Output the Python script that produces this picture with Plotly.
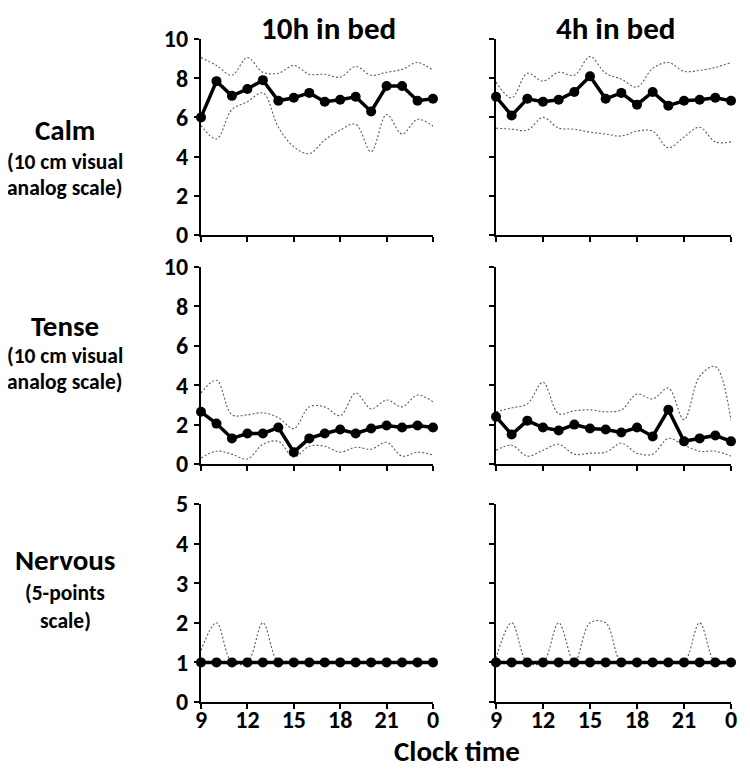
import plotly.graph_objects as go

# ---------------- data ----------------
hours = [9, 10, 11, 12, 13, 14, 15, 16, 17, 18, 19, 20, 21, 22, 23, 24]
x_tickvals = [9, 12, 15, 18, 21, 24]
x_ticktext = ["9", "12", "15", "18", "21", "0"]

calm_10_mean = [6.0, 7.85, 7.1, 7.45, 7.9, 6.85, 7.0, 7.25, 6.8, 6.9, 7.05, 6.3, 7.6, 7.6, 6.85, 6.95]
calm_10_upper = [9.05, 8.65, 8.15, 9.05, 8.3, 8.25, 8.65, 8.2, 8.2, 8.05, 8.6, 8.15, 8.3, 8.45, 8.8, 8.4]
calm_10_lower = [5.6, 4.9, 6.4, 6.8, 7.25, 5.5, 4.5, 4.15, 4.85, 5.35, 5.65, 4.25, 6.15, 5.15, 5.9, 5.55]

calm_4_mean = [7.05, 6.1, 6.95, 6.8, 6.9, 7.3, 8.1, 6.95, 7.25, 6.65, 7.3, 6.6, 6.85, 6.9, 7.0, 6.85]
calm_4_upper = [7.8, 7.0, 8.25, 7.85, 8.3, 8.15, 9.1, 8.25, 7.95, 7.55, 8.5, 8.8, 8.35, 8.4, 8.55, 8.8]
calm_4_lower = [5.45, 5.4, 5.35, 6.0, 5.45, 5.4, 5.25, 5.15, 5.05, 5.3, 5.3, 4.45, 5.0, 5.5, 4.75, 4.75]

tense_10_mean = [2.65, 2.05, 1.3, 1.55, 1.55, 1.85, 0.6, 1.3, 1.55, 1.75, 1.55, 1.8, 1.95, 1.85, 1.95, 1.85]
tense_10_upper = [3.6, 4.25, 2.5, 2.5, 2.6, 2.35, 1.8, 2.9, 2.9, 2.45, 3.6, 2.8, 3.25, 2.9, 3.5, 3.15]
tense_10_lower = [0.3, 0.65, 0.5, 0.25, 1.0, 1.15, 0.35, 0.9, 0.9, 0.6, 0.85, 0.75, 1.1, 0.4, 0.6, 0.45]

tense_4_mean = [2.4, 1.5, 2.2, 1.85, 1.7, 2.0, 1.8, 1.75, 1.6, 1.85, 1.4, 2.75, 1.15, 1.3, 1.45, 1.15]
tense_4_upper = [2.65, 2.85, 3.05, 4.15, 2.55, 2.7, 2.75, 2.65, 2.75, 3.55, 3.3, 3.85, 2.25, 4.45, 4.95, 2.2]
tense_4_lower = [0.7, 0.95, 0.4, 0.7, 1.0, 0.5, 0.55, 0.6, 1.05, 0.55, 0.5, 1.3, 0.95, 0.65, 0.65, 0.4]

nervous_10_mean = [1, 1, 1, 1, 1, 1, 1, 1, 1, 1, 1, 1, 1, 1, 1, 1]
nervous_10_upper = [1.3, 2, 1, 1, 2, 1, 1, 1, 1, 1, 1, 1, 1, 1, 1, 1]
nervous_10_lower = [1, 1, 1, 1, 1, 1, 1, 1, 1, 1, 1, 1, 1, 1, 1, 1]

nervous_4_mean = [1, 1, 1, 1, 1, 1, 1, 1, 1, 1, 1, 1, 1, 1, 1, 1]
nervous_4_upper = [1.1, 2, 1, 1, 2, 1, 2, 2, 1, 1, 1, 1, 1, 2, 1, 1]
nervous_4_lower = [1, 1, 1, 1, 1, 1, 1, 1, 1, 1, 1, 1, 1, 1, 1, 1]

column_titles = ["10h in bed", "4h in bed"]
row_titles = [
    ["Calm", "(10 cm visual", "analog scale)"],
    ["Tense", "(10 cm visual", "analog scale)"],
    ["Nervous", "(5-points", "scale)"],
]
x_title = "Clock time"

# ---------------- layout helpers ----------------
OFF = 8                 # page body margin of the html
W, H = 750 - OFF, 774 - OFF
FONT = "Carlito, Calibri, Lato, sans-serif"

def px_x(p):
    return (p - OFF) / W

def px_y(p):
    return 1 - (p - OFF) / H

col_dom = [[px_x(201), px_x(433)], [px_x(496), px_x(731)]]
row_dom = [[px_y(235), px_y(39)], [px_y(464), px_y(267)], [px_y(702), px_y(504)]]

panels = [
    [(calm_10_mean, calm_10_upper, calm_10_lower), (calm_4_mean, calm_4_upper, calm_4_lower)],
    [(tense_10_mean, tense_10_upper, tense_10_lower), (tense_4_mean, tense_4_upper, tense_4_lower)],
    [(nervous_10_mean, nervous_10_upper, nervous_10_lower), (nervous_4_mean, nervous_4_upper, nervous_4_lower)],
]
y_ranges = [[0, 10], [0, 10], [0, 5]]
y_dticks = [2, 2, 1]

fig = go.Figure()
layout = {}
k = 0
for r in range(3):
    for c in range(2):
        k += 1
        xa = "x" if k == 1 else f"x{k}"
        ya = "y" if k == 1 else f"y{k}"
        mean, upper, lower = panels[r][c]
        for band in (upper, lower):
            fig.add_trace(go.Scatter(
                x=hours, y=band, mode="lines", xaxis=xa, yaxis=ya,
                line=dict(color="#5a5a5a", width=1.1, dash="2px,2px", shape="spline", smoothing=1.0),
                cliponaxis=False, showlegend=False, hoverinfo="skip"))
        fig.add_trace(go.Scatter(
            x=hours, y=mean, mode="lines+markers", xaxis=xa, yaxis=ya,
            line=dict(color="black", width=3.5),
            marker=dict(color="black", size=10),
            cliponaxis=False, showlegend=False))
        axis_common = dict(showline=True, linecolor="black", linewidth=2, ticks="outside",
                           ticklen=5, tickwidth=2, tickcolor="black", showgrid=False, zeroline=False,
                           automargin=False,
                           tickfont=dict(family=FONT, size=24, color="black", weight="bold"))
        layout[("xaxis" if k == 1 else f"xaxis{k}")] = dict(
            domain=col_dom[c], range=[9, 24], tickvals=x_tickvals, ticktext=x_ticktext,
            showticklabels=(r == 2), anchor=ya, ticklabelstandoff=-10, **axis_common)
        layout[("yaxis" if k == 1 else f"yaxis{k}")] = dict(
            domain=row_dom[r], range=y_ranges[r], dtick=y_dticks[r],
            showticklabels=(c == 0), anchor=xa, ticklabelstandoff=1, **axis_common)

annotations = []
# column titles
for txt, cx in zip(column_titles, [328, 616]):
    annotations.append(dict(text=txt, x=px_x(cx), y=px_y(28), xref="paper", yref="paper",
                            showarrow=False, xanchor="center", yanchor="middle",
                            font=dict(family=FONT, size=31, color="black", weight="bold")))
# row titles
row_y = [[130, 162, 188], [326, 356, 382], [560, 593, 621]]
for lines, ys in zip(row_titles, row_y):
    for i, (txt, yy) in enumerate(zip(lines, ys)):
        annotations.append(dict(text=txt, x=px_x(65), y=px_y(yy), xref="paper", yref="paper",
                                showarrow=False, xanchor="center", yanchor="middle",
                                font=dict(family=FONT, size=(29 if i == 0 else 21.5), color="black",
                                          weight="bold")))
annotations.append(dict(text=x_title, x=px_x(457), y=px_y(751), xref="paper", yref="paper",
                        showarrow=False, xanchor="center", yanchor="middle",
                        font=dict(family=FONT, size=29, color="black", weight="bold")))

fig.update_layout(width=W, height=H, margin=dict(l=0, r=0, t=0, b=0, pad=0, autoexpand=False),
                  paper_bgcolor="white", plot_bgcolor="white",
                  annotations=annotations, **layout)

fig.write_html("out.html", config={"responsive": False})
